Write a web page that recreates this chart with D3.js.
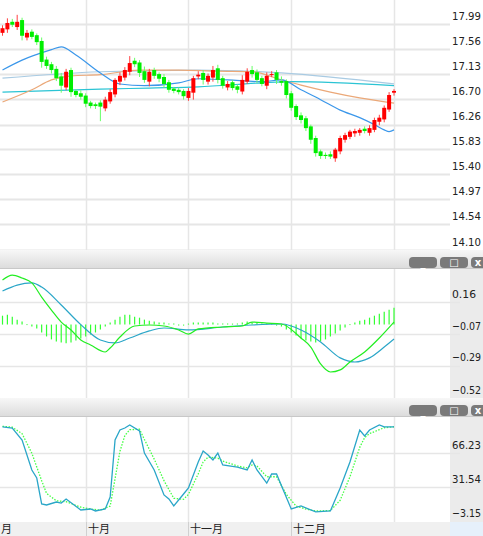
<!DOCTYPE html>
<html><head><meta charset="utf-8">
<script src="https://cdn.jsdelivr.net/npm/d3@7/dist/d3.min.js"></script>
<style>body{margin:0;background:#fff}svg{display:block;font-family:"DejaVu Sans",sans-serif}</style>
</head><body><svg id="c" width="483" height="536"></svg>
<script>
const closes=[17.78,17.87,17.84,17.89,17.65,17.70,17.63,17.54,17.20,17.13,17.06,16.92,16.79,17.03,16.68,16.63,16.60,16.48,16.44,16.44,16.43,16.55,16.68,16.89,16.96,17.06,17.18,17.16,17.01,16.89,17.03,16.96,16.91,16.82,16.72,16.70,16.68,16.61,16.70,16.92,16.98,16.89,16.96,17.06,16.89,16.79,16.82,16.75,16.72,16.89,17.03,16.99,16.89,16.82,16.96,16.99,16.89,16.84,16.63,16.41,16.25,16.20,16.06,15.86,15.63,15.58,15.58,15.57,15.69,15.89,15.94,16.00,16.01,16.03,16.01,16.06,16.20,16.24,16.41,16.63,16.70];
const opens=[17.70,17.76,17.89,17.80,17.92,17.62,17.72,17.66,17.56,17.24,17.16,17.08,16.95,16.76,17.06,16.70,16.66,16.62,16.50,16.47,16.50,16.40,16.52,16.64,16.86,16.93,17.03,17.22,17.19,17.04,16.86,17.06,16.99,16.94,16.85,16.74,16.72,16.70,16.58,16.67,16.95,17.01,16.86,16.93,17.09,16.92,16.76,16.85,16.78,16.69,16.86,17.06,17.02,16.92,16.79,16.99,17.02,16.87,16.87,16.66,16.44,16.28,16.23,16.09,15.89,15.66,15.60,15.61,15.54,15.66,15.86,15.91,15.97,15.98,16.05,15.98,16.03,16.17,16.21,16.38,16.67];
const wickUp=[0.05,0.08,0.05,0.12,0.04,0.05,0.04,0.03,0.06,0.05,0.04,0.05,0.06,0.05,0.04,0.03,0.05,0.04,0.03,0.03,0.04,0.05,0.05,0.03,0.06,0.05,0.12,0.05,0.04,0.08,0.05,0.04,0.03,0.05,0.04,0.03,0.04,0.03,0.05,0.04,0.06,0.05,0.04,0.07,0.06,0.04,0.05,0.04,0.03,0.08,0.06,0.07,0.05,0.04,0.06,0.05,0.04,0.08,0.03,0.04,0.03,0.05,0.04,0.03,0.04,0.03,0.04,0.05,0.03,0.04,0.04,0.03,0.04,0.03,0.04,0.05,0.04,0.05,0.04,0.05,0.03];
const wickDn=[0.05,0.06,0.04,0.05,0.08,0.05,0.04,0.05,0.10,0.05,0.06,0.05,0.12,0.05,0.08,0.04,0.05,0.06,0.04,0.05,0.25,0.05,0.04,0.05,0.06,0.05,0.06,0.05,0.07,0.05,0.08,0.05,0.06,0.07,0.05,0.04,0.04,0.06,0.05,0.12,0.05,0.08,0.05,0.07,0.06,0.05,0.05,0.04,0.06,0.05,0.04,0.06,0.05,0.04,0.06,0.05,0.07,0.05,0.06,0.05,0.05,0.06,0.05,0.07,0.06,0.05,0.05,0.04,0.06,0.05,0.05,0.04,0.06,0.05,0.04,0.05,0.04,0.06,0.05,0.04,0.05];
const maShort=[[0,17.06],[4,17.23],[10,17.41],[12,17.46],[15,17.32],[20,17.01],[24,16.82],[29,16.79],[36,16.84],[40,16.91],[46,16.89],[53,16.86],[57,16.89],[61,16.72],[65,16.55],[69,16.37],[73,16.24],[76,16.12],[78,16.03],[79,16.00],[80,16.03]];
const maLong=[[0,16.51],[6,16.72],[10,16.89],[14,16.96],[20,16.98],[28,17.06],[36,17.06],[44,17.04],[51,17.03],[57,16.89],[61,16.80],[67,16.68],[73,16.58],[80,16.49]];
const maPale=[[0,16.92],[20,17.03],[40,17.06],[57,17.01],[80,16.82]];
const maCyan=[[0,16.68],[20,16.73],[30,16.75],[40,16.77],[53,16.84],[59,16.86],[80,16.79]];
const priceTicks=[17.99,17.56,17.13,16.70,16.26,15.83,15.40,14.97,14.54,14.10];
const dif=[[0,0.316],[2,0.351],[4,0.33],[6,0.295],[8,0.195],[10,0.103],[12,0.018],[14,-0.038],[16,-0.109],[18,-0.144],[21,-0.194],[22,-0.166],[24,-0.088],[27,-0.01],[30,-0.003],[33,-0.01],[36,-0.038],[38,-0.067],[40,-0.031],[45,-0.017],[49,-0.01],[51,0.018],[54,0.011],[57,0.004],[61,-0.095],[63,-0.159],[65,-0.279],[67,-0.336],[69,-0.321],[71,-0.265],[74,-0.194],[77,-0.095],[80,0.018]];
const dea=[[0,0.238],[3,0.28],[6,0.295],[8,0.266],[12,0.139],[16,0.0],[20,-0.109],[23,-0.13],[26,-0.095],[30,-0.045],[33,-0.024],[38,-0.038],[45,-0.017],[51,-0.003],[57,0.004],[61,-0.038],[65,-0.123],[69,-0.236],[72,-0.265],[75,-0.236],[78,-0.159],[80,-0.102]];
const hist=[0.063,0.07,0.056,0.035,0.021,0,-0.014,-0.028,-0.056,-0.084,-0.105,-0.119,-0.126,-0.133,-0.126,-0.112,-0.098,-0.084,-0.07,-0.056,-0.035,-0.014,0.014,0.035,0.056,0.07,0.07,0.056,0.049,0.035,0.028,0.021,0.014,0.014,0.007,0.007,-0.007,-0.007,0.007,0.014,0.014,0.014,0.014,0.014,0.007,0.007,0.007,0.007,0.007,0.014,0.021,0.014,0.014,0.007,0.007,0.007,-0.007,-0.014,-0.035,-0.056,-0.077,-0.098,-0.112,-0.119,-0.126,-0.119,-0.105,-0.084,-0.063,-0.042,-0.021,0,0.014,0.028,0.035,0.049,0.063,0.077,0.091,0.105,0.119];
const macdTicks=[0.16,-0.07,-0.29,-0.52];
const kLine=[[0,92.8],[2,91.7],[4,79.5],[6,48.9],[7,40.7],[8,14.2],[9,13.2],[11,16.2],[12,15.2],[13,19.3],[16,8.1],[18,9.1],[19,7.1],[21,9.1],[22,21.3],[23,79.5],[24,89.7],[25,91.7],[26,94.8],[28,88.7],[29,66.2],[31,48.9],[33,23.4],[34,19.3],[35,12.2],[37,24.4],[38,30.5],[40,57.0],[41,68.3],[42,64.2],[43,59.1],[44,66.2],[45,54.0],[48,51.9],[50,48.9],[51,59.1],[52,48.9],[54,35.6],[55,44.8],[56,44.8],[59,9.1],[61,12.2],[64,6.1],[67,7.1],[69,30.5],[71,57.0],[73,89.7],[74,83.6],[75,89.7],[77,94.8],[78,92.8],[80,92.8]];
const dLine=[[0,93.5],[2,92.5],[4,86.0],[6,66.0],[8,38.0],[9,25.0],[11,17.5],[13,16.5],[16,11.0],[18,9.0],[20,8.0],[22,12.0],[23,40.0],[24,68.0],[25,84.0],[26,90.0],[28,90.5],[29,80.0],[31,60.0],[33,38.0],[35,20.0],[37,19.0],[38,24.0],[40,45.0],[41,57.0],[42,62.0],[44,61.0],[45,58.0],[48,53.0],[50,51.0],[51,54.0],[52,53.0],[54,42.0],[56,42.0],[58,24.0],[60,12.0],[62,9.0],[64,7.0],[67,7.5],[69,18.0],[71,42.0],[73,72.0],[74,82.0],[75,86.0],[77,90.0],[78,92.0],[80,93.0]];
const kdjTicks=[66.23,31.54,-3.15];
const months=[{t:"月",i:-1},{t:"十月",i:17},{t:"十一月",i:38},{t:"十二月",i:59}];
const vgrid=[17,38,59,80];

const svg=d3.select("#c");
const n=closes.length;
const x=d3.scaleLinear().domain([0,n-1]).range([2.5,394]);
const gridC="#e6e6e6";
function vlines(y0,y1){vgrid.forEach(i=>svg.append("line").attr("x1",Math.round(x(i))+.5).attr("x2",Math.round(x(i))+.5).attr("y1",y0).attr("y2",y1).attr("stroke",gridC).attr("stroke-width",1.5));}
function axisText(v,y,fmt){svg.append("text").attr("x",452).attr("y",y).attr("dy","0.35em").attr("font-size",11).attr("font-family","DejaVu Sans Condensed, DejaVu Sans").attr("textLength",v<0?29:(v>=10?29:24)).attr("lengthAdjust","spacingAndGlyphs").attr("fill","#222").text(fmt(v));}

// price panel
const yP=d3.scaleLinear().domain([17.99,14.10]).range([16,242]);
priceTicks.forEach(t=>{svg.append("line").attr("x1",0).attr("x2",450).attr("y1",Math.round(yP(t))+8.5).attr("y2",Math.round(yP(t))+8.5).attr("stroke",gridC).attr("stroke-width",2);axisText(t,yP(t),d3.format(".2f"));});
vlines(0,250);
const line=(xs,ys)=>d3.line().x(d=>xs(d[0])).y(d=>ys(d[1])).curve(d3.curveMonotoneX);
[[maPale,"#a9cbe3"],[maCyan,"#2bc4d4"],[maLong,"#eba878"],[maShort,"#3b97ea"]].forEach(([d,c])=>svg.append("path").attr("d",line(x,yP)(d)).attr("fill","none").attr("stroke",c).attr("stroke-width",1.2));
closes.forEach((c,i)=>{const o=opens[i];const up=c>=o;const col=up?"#ff0000":"#00ee00";
 const hi=Math.max(o,c)+wickUp[i],lo=Math.min(o,c)-wickDn[i];
 svg.append("line").attr("x1",x(i)).attr("x2",x(i)).attr("y1",yP(hi)).attr("y2",yP(lo)).attr("stroke",up?"#ff4040":"#66ff66").attr("stroke-width",1);
 const t=yP(Math.max(o,c)),b=yP(Math.min(o,c));
 svg.append("rect").attr("x",x(i)-2).attr("width",4).attr("y",t).attr("height",Math.max(1,b-t)).attr("fill",col);});

// separators
function sep(y){const g=svg.append("defs").append("linearGradient").attr("id","g"+y).attr("x1",0).attr("x2",0).attr("y1",0).attr("y2",1);
 g.append("stop").attr("offset",0).attr("stop-color","#f7f7f7");g.append("stop").attr("offset",1).attr("stop-color","#dcdcdc");
 svg.append("rect").attr("x",0).attr("y",y).attr("width",483).attr("height",18).attr("fill","url(#g"+y+")");
 svg.append("line").attr("x1",0).attr("x2",483).attr("y1",y+18.5).attr("y2",y+18.5).attr("stroke","#c8c8c8");
 [[409,"_",423],[440,"□",454],[471,"x",478]].forEach(([bx,s,tx])=>{svg.append("rect").attr("x",bx).attr("y",y+7).attr("width",28).attr("height",11).attr("rx",4).attr("fill","#7a7a7a");
  svg.append("text").attr("x",tx).attr("y",y+16).attr("text-anchor","middle").attr("fill","#fff").attr("font-size",10).attr("font-weight","bold").text(s);});}
sep(250);

// MACD
svg.append("rect").attr("x",450).attr("y",269).attr("width",33).attr("height",129).attr("fill","#ebebeb");
const yM=d3.scaleLinear().domain([0.16,-0.52]).range([302,398]);
macdTicks.forEach(t=>{if(t>-0.5)svg.append("line").attr("x1",0).attr("x2",460).attr("y1",Math.round(yM(t))+.5).attr("y2",Math.round(yM(t))+.5).attr("stroke",gridC).attr("stroke-width",1.5);axisText(t,yM(t)-8,d3.format(".2f"));});
vlines(269,398);
hist.forEach((h,i)=>{const y0=yM(0),y1=yM(h);if(Math.abs(y1-y0)<0.5){svg.append("rect").attr("x",x(i)-0.5).attr("y",y0-0.5).attr("width",1).attr("height",1).attr("fill","#33ff33");return;}
 svg.append("line").attr("x1",x(i)).attr("x2",x(i)).attr("y1",y0).attr("y2",y1).attr("stroke","#33ff33").attr("stroke-width",1.2);});
svg.append("path").attr("d",line(x,yM)(dea)).attr("fill","none").attr("stroke","#2aa6c8").attr("stroke-width",1.2);
svg.append("path").attr("d",line(x,yM)(dif)).attr("fill","none").attr("stroke","#22ee22").attr("stroke-width",1.2);
sep(398);

// KDJ
svg.append("rect").attr("x",450).attr("y",417).attr("width",33).attr("height",105).attr("fill","#ebebeb");
const yK=d3.scaleLinear().domain([66.23,-3.15]).range([453,521]);
kdjTicks.forEach(t=>{if(t>0)svg.append("line").attr("x1",0).attr("x2",460).attr("y1",Math.round(yK(t))+.5).attr("y2",Math.round(yK(t))+.5).attr("stroke",gridC).attr("stroke-width",1.5);axisText(t,yK(t)-8,d3.format(".2f"));});
vlines(417,522);
const lin=(xs,ys)=>d3.line().x(d=>xs(d[0])).y(d=>ys(d[1]));
svg.append("path").attr("d",lin(x,yK)(dLine)).attr("fill","none").attr("stroke","#44ff44").attr("stroke-width",1.3).attr("stroke-dasharray","1.5,1.5");
svg.append("path").attr("d",lin(x,yK)(kLine)).attr("fill","none").attr("stroke","#2aa6c8").attr("stroke-width",1.3);

// x axis
svg.append("rect").attr("x",0).attr("y",522).attr("width",450).attr("height",14).attr("fill","#f0f0f0");
svg.append("rect").attr("x",450).attr("y",522).attr("width",33).attr("height",14).attr("fill","#e6f0fb");
months.forEach(m=>{const px=m.i<0?-1:Math.round(x(m.i));
 if(m.i>=0)svg.append("line").attr("x1",px+.5).attr("x2",px+.5).attr("y1",522).attr("y2",536).attr("stroke","#d0d0d0");
 svg.append("text").attr("x",px+2).attr("y",532).attr("dy","0.1em").attr("font-size",11).attr("font-family","Noto Sans CJK SC").attr("fill","#222").text(m.t);});
</script></body></html>
